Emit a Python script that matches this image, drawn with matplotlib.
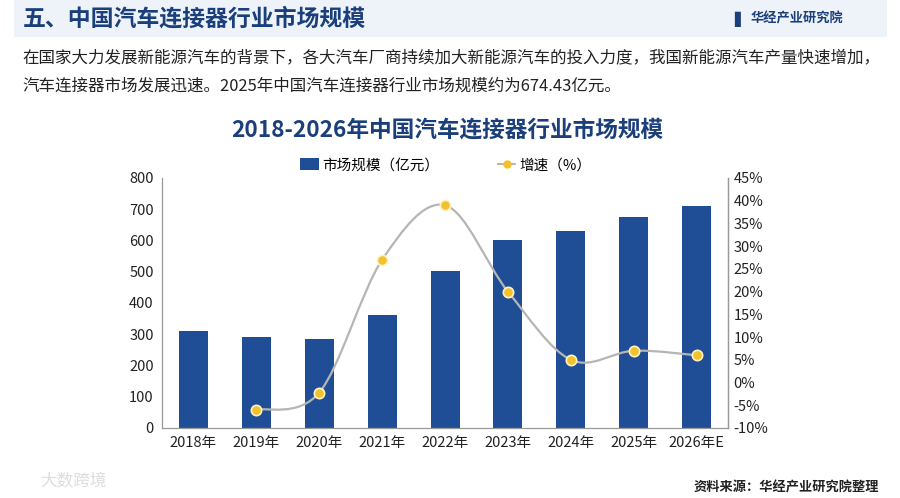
import matplotlib
matplotlib.use("Agg")
import matplotlib.pyplot as plt
import numpy as np
from matplotlib.path import Path
from matplotlib.patches import PathPatch, Rectangle
from matplotlib.lines import Line2D

plt.rcParams['font.family'] = ['Noto Sans CJK SC', 'DejaVu Sans']

categories = ["2018年", "2019年", "2020年", "2021年", "2022年", "2023年", "2024年", "2025年", "2026年E"]
market_size = [310, 290, 285, 360, 502, 600, 630, 674.43, 711]
growth_years = ["2019年", "2020年", "2021年", "2022年", "2023年", "2024年", "2025年", "2026年E"]
growth_rate = [-6.0, -2.2, 27.0, 39.0, 20.0, 5.0, 7.0, 6.0]
left_ticks = [0, 100, 200, 300, 400, 500, 600, 700, 800]
right_ticks = [-10, -5, 0, 5, 10, 15, 20, 25, 30, 35, 40, 45]

BAR = "#1F4E96"
DARK = "#1B3F7A"
GOLD = "#F2C12E"

fig = plt.figure(figsize=(9, 4.98), dpi=100)
fig.patch.set_facecolor("white")

# header band
fig.add_artist(Rectangle((0.015, 0.925), 0.97, 0.075, transform=fig.transFigure,
                         facecolor="#EEF3FA", edgecolor="none", zorder=0))
fig.text(0.025, 0.962, "五、中国汽车连接器行业市场规模", fontsize=16.5, fontweight="bold",
         color=DARK, va="center", ha="left")
fig.text(0.816, 0.962, "▌", fontsize=11, color=DARK, va="center", ha="left", family=['DejaVu Sans'])
fig.text(0.834, 0.962, "华经产业研究院", fontsize=9.5, fontweight="bold", color=DARK, va="center", ha="left")

fig.text(0.025, 0.883, "在国家大力发展新能源汽车的背景下，各大汽车厂商持续加大新能源汽车的投入力度，我国新能源汽车产量快速增加，",
         fontsize=11.9, color="#222222", va="center", ha="left")
fig.text(0.025, 0.828, "汽车连接器市场发展迅速。2025年中国汽车连接器行业市场规模约为674.43亿元。",
         fontsize=11.9, color="#222222", va="center", ha="left")

fig.text(0.497, 0.738, "2018-2026年中国汽车连接器行业市场规模", fontsize=16.3, fontweight="bold",
         color=DARK, va="center", ha="center")

ax = fig.add_axes([0.18, 0.1406, 0.629, 0.502])
x = np.arange(len(categories))
ax.bar(x, market_size, width=0.46, color=BAR, zorder=2)
ax.set_xlim(-0.5, len(categories) - 0.5)
ax.set_ylim(0, 800)
ax.set_yticks(left_ticks)
ax.set_yticklabels([str(t) for t in left_ticks])
ax.set_xticks(x)
ax.set_xticklabels(categories)
ax.spines["top"].set_visible(False)
for s in ["left", "bottom", "right"]:
    ax.spines[s].set_color("#999999")
    ax.spines[s].set_linewidth(0.9)
ax.tick_params(axis="both", labelsize=10.5, colors="#222222", length=0)
ax.tick_params(axis="x", pad=6)
ax.tick_params(axis="y", pad=6)

ax2 = ax.twinx()
ax2.set_ylim(-10, 45)
ax2.set_yticks(right_ticks)
ax2.set_yticklabels([f"{t}%" for t in right_ticks])
ax2.tick_params(axis="y", labelsize=10.5, colors="#222222", length=0, pad=4)
for s in ["top", "left", "bottom"]:
    ax2.spines[s].set_visible(False)
ax2.spines["right"].set_color("#999999")
ax2.spines["right"].set_linewidth(0.9)

gx = np.array([categories.index(c) for c in growth_years], dtype=float)
gy = np.array(growth_rate, dtype=float)

# smooth curve through points (Catmull-Rom -> cubic Bezier)
verts = [(gx[0], gy[0])]
codes = [Path.MOVETO]
n = len(gx)
t = 0.5
for i in range(n - 1):
    p0 = (gx[i - 1], gy[i - 1]) if i > 0 else (gx[i], gy[i])
    p1 = (gx[i], gy[i])
    p2 = (gx[i + 1], gy[i + 1])
    p3 = (gx[i + 2], gy[i + 2]) if i + 2 < n else (gx[i + 1], gy[i + 1])
    c1 = (p1[0] + (p2[0] - p0[0]) * t / 3, p1[1] + (p2[1] - p0[1]) * t / 3)
    c2 = (p2[0] - (p3[0] - p1[0]) * t / 3, p2[1] - (p3[1] - p1[1]) * t / 3)
    verts += [c1, c2, p2]
    codes += [Path.CURVE4] * 3
ax2.add_patch(PathPatch(Path(verts, codes), facecolor="none", edgecolor="#B5B5B5", lw=1.6, zorder=3))
ax2.scatter(gx, gy, s=55, color=GOLD, edgecolor="#FFF3C4", linewidth=1.2, zorder=4)

# legend
handles = [Rectangle((0, 0), 1, 1, facecolor=BAR, edgecolor="none"),
           Line2D([0], [0], color="#B5B5B5", lw=1.5, ls="--", marker="o",
                  markerfacecolor=GOLD, markeredgecolor=GOLD, markersize=5)]
fig.legend(handles, ["市场规模（亿元）", "增速（%）"], loc="center", bbox_to_anchor=(0.495, 0.668),
           ncol=2, frameon=False, fontsize=10.5, handlelength=1.3, handleheight=0.9,
           columnspacing=4.0, handletextpad=0.2)

fig.text(0.977, 0.022, "资料来源：华经产业研究院整理", fontsize=9.5, fontweight="bold",
         color="#222222", va="center", ha="right")
fig.text(0.045, 0.032, "大数跨境", fontsize=12, color="#DDDDDD", va="center", ha="left")

fig.savefig("out.png", dpi=100, facecolor="white")
